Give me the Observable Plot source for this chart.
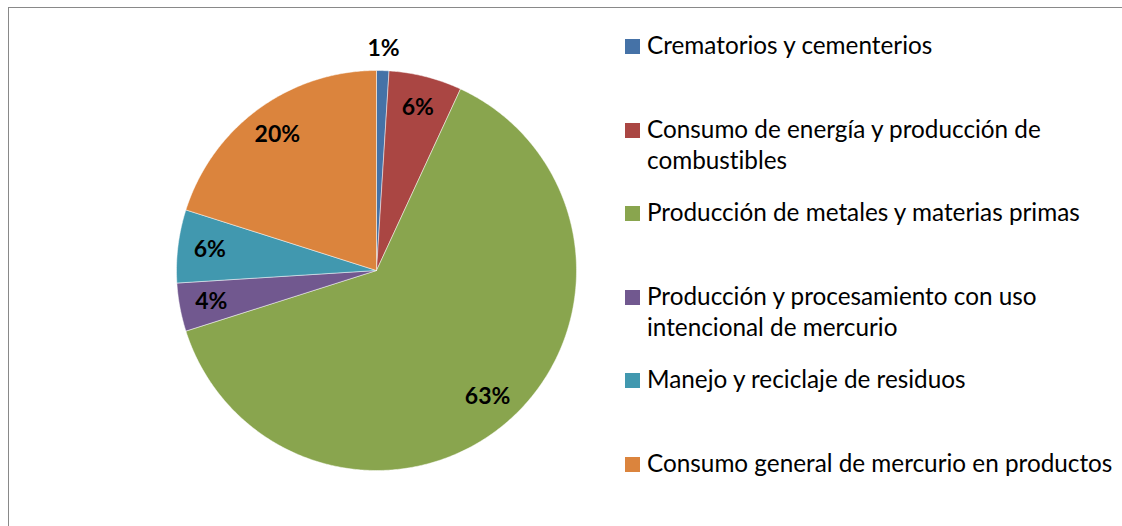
<!DOCTYPE html>
<html>
<head>
<meta charset="utf-8">
<script src="https://cdn.jsdelivr.net/npm/d3@7"></script>
<script src="https://cdn.jsdelivr.net/npm/@observablehq/plot@0.6"></script>
<style>
  html, body { margin: 0; padding: 0; background: #fff; overflow: hidden; }
  #wrap { position: relative; width: 1122px; height: 526px; overflow: hidden; }
  #frame { position: absolute; left: 8px; top: 7px; width: 1300px; height: 700px; border: 1.5px solid #898989; box-sizing: border-box; }
  #chart { position: absolute; left: 0; top: 0; }
  #legend { position: absolute; left: 0; top: 0; width: 1122px; height: 526px; font-family: Lato, "Open Sans", sans-serif; font-size: 24.3px; line-height: 31px; color: #000; font-variant-ligatures: none; }
  .item { position: absolute; left: 647px; white-space: nowrap; }
  .sw { position: absolute; left: -22px; top: 9.5px; width: 15px; height: 15px; }
</style>
</head>
<body>
<div id="wrap">
  <div id="frame"></div>
  <div id="chart"></div>
  <div id="legend"></div>
</div>
<script>
const categories = [
  "Crematorios y cementerios",
  "Consumo de energía y producción de combustibles",
  "Producción de metales y materias primas",
  "Producción y procesamiento con uso intencional de mercurio",
  "Manejo y reciclaje de residuos",
  "Consumo general de mercurio en productos"
];
const legendLines = [
  ["Crematorios y cementerios"],
  ["Consumo de energía y producción de", "combustibles"],
  ["Producción de metales y materias primas"],
  ["Producción y procesamiento con uso", "intencional de mercurio"],
  ["Manejo y reciclaje de residuos"],
  ["Consumo general de mercurio en productos"]
];
const values = [1.0, 5.9, 63.2, 3.9, 5.9, 20.1];
const labels = ["1%", "6%", "63%", "4%", "6%", "20%"];
const colors = ["#4572A7", "#AA4643", "#89A54E", "#71588F", "#4198AF", "#DB843D"];

// pie geometry (angles from 12 o'clock, clockwise)
const arcs = d3.pie().sort(null).value(d => d)(values);
const slicePts = [];
arcs.forEach((a, i) => {
  const cat = categories[i];
  slicePts.push({cat, x: 0, y: 0});
  const n = Math.max(2, Math.ceil((a.endAngle - a.startAngle) / (Math.PI / 360)));
  for (let k = 0; k <= n; k++) {
    const t = a.startAngle + (a.endAngle - a.startAngle) * k / n;
    slicePts.push({cat, x: Math.sin(t), y: Math.cos(t)});
  }
  slicePts.push({cat, x: 0, y: 0});
});
const labelPts = arcs.map((a, i) => {
  const m = (a.startAngle + a.endAngle) / 2;
  const r = values[i] < 2 ? 1.11 : 0.84;
  return {x: r * Math.sin(m), y: r * Math.cos(m), text: labels[i]};
});

const plot = Plot.plot({
  width: 1122,
  height: 526,
  margin: 0,
  x: {domain: [-1, 1], range: [176, 576], axis: null},
  y: {domain: [-1, 1], range: [470, 70], axis: null},
  color: {domain: categories, range: colors},
  style: {background: "transparent"},
  marks: [
    Plot.line(slicePts, {x: "x", y: "y", z: "cat", fill: "cat", stroke: "#ffffff", strokeWidth: 0.6, strokeOpacity: 0.8, curve: "linear"}),
    Plot.text(labelPts, {x: "x", y: "y", text: "text", fontFamily: "Lato, 'Open Sans', sans-serif", fontWeight: "bold", fontSize: 23, fill: "#000", textAnchor: "middle", lineAnchor: "middle"})
  ]
});
document.getElementById("chart").appendChild(plot);

// legend
const tops = [29, 113, 196, 280, 363, 447];
const legend = document.getElementById("legend");
legendLines.forEach((lines, i) => {
  const it = document.createElement("div");
  it.className = "item";
  it.style.top = tops[i] + "px";
  const sw = document.createElement("div");
  sw.className = "sw";
  sw.style.background = colors[i];
  it.appendChild(sw);
  lines.forEach((l, j) => {
    const ln = document.createElement("div");
    ln.textContent = l;
    it.appendChild(ln);
  });
  legend.appendChild(it);
});
</script>
</body>
</html>
